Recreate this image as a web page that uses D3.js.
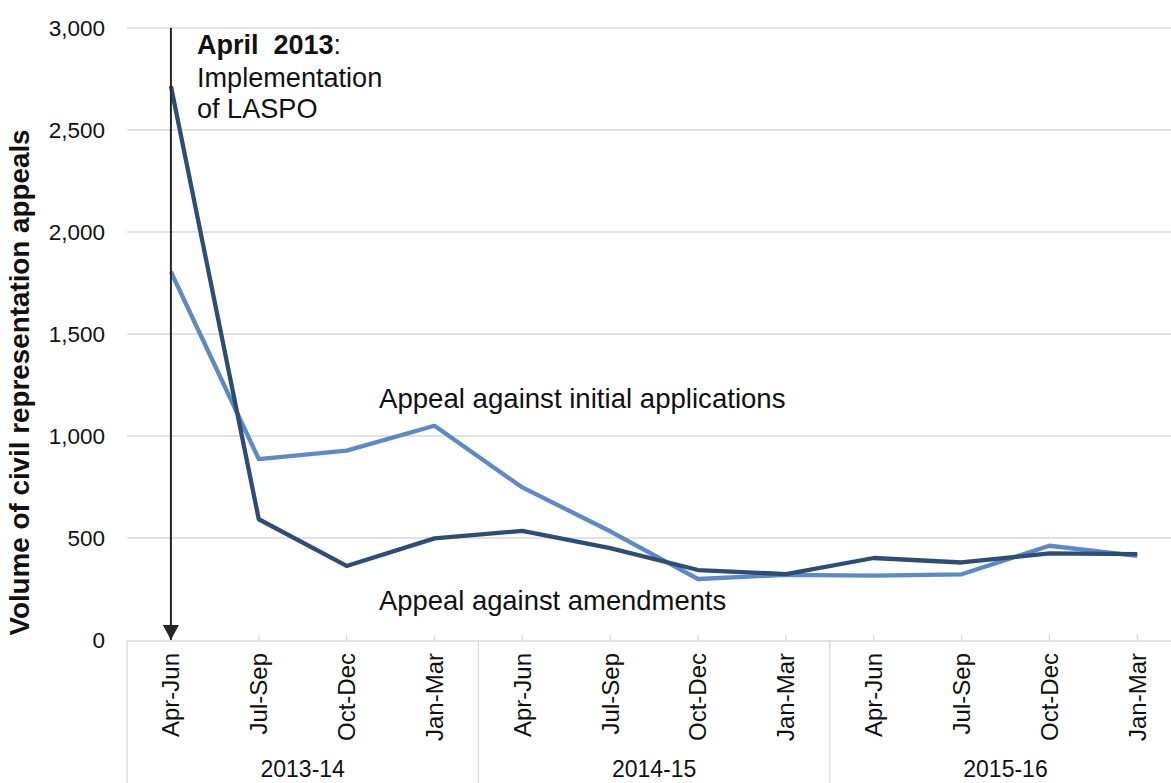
<!DOCTYPE html>
<html>
<head>
<meta charset="utf-8">
<script src="https://cdn.jsdelivr.net/npm/d3@7"></script>
<style>
  html, body { margin: 0; padding: 0; background: #fff; }
  svg { display: block; font-family: "Liberation Sans", Arial, sans-serif; }
</style>
</head>
<body>
<svg id="chart" width="1171" height="783"></svg>
<script>
// Quarterly volumes of civil representation appeals, 2013-14 to 2015-16
const quarters = ["Apr-Jun", "Jul-Sep", "Oct-Dec", "Jan-Mar"];
const years = ["2013-14", "2014-15", "2015-16"];
const initialApplications = [1805, 887, 928, 1050, 748, 533, 299, 319, 316, 322, 462, 412];
const amendments = [2715, 592, 363, 498, 535, 450, 343, 323, 402, 380, 425, 421];
const yTicks = [0, 500, 1000, 1500, 2000, 2500, 3000];

const periods = years.flatMap(yr => quarters.map(q => yr + " " + q));

(function draw() {
  const svg = d3.select("#chart");
  const plotLeft = 127, plotTop = 28, plotBottom = 640;
  const step = 87.85;
  const plotRight = plotLeft + step * periods.length;

  const x = d3.scalePoint().domain(periods).range([plotLeft + step / 2, plotRight - step / 2]);
  const y = d3.scaleLinear().domain([0, 3000]).range([plotBottom, plotTop]);

  // Gridlines
  svg.append("g")
    .selectAll("line")
    .data(yTicks.filter(d => d > 0))
    .join("line")
    .attr("x1", plotLeft).attr("x2", 1171)
    .attr("y1", d => y(d)).attr("y2", d => y(d))
    .attr("stroke", "#d9d9d9").attr("stroke-width", 1.3);

  // Y tick labels
  svg.append("g")
    .selectAll("text")
    .data(yTicks)
    .join("text")
    .attr("x", 105).attr("y", d => y(d))
    .attr("dy", "0.35em")
    .attr("text-anchor", "end")
    .attr("font-size", 22.5)
    .attr("fill", "#111")
    .text(d => d3.format(",")(d));

  // Y axis title
  svg.append("text")
    .attr("transform", `translate(29,${(130 + 635) / 2}) rotate(-90)`)
    .attr("text-anchor", "middle")
    .attr("font-size", 27.8)
    .attr("font-weight", "bold")
    .attr("fill", "#111")
    .text("Volume of civil representation appeals");

  // Category axis: baseline, inner ticks and year dividers
  const axisY = plotBottom + 1;
  svg.append("line")
    .attr("x1", plotLeft).attr("x2", 1171)
    .attr("y1", axisY).attr("y2", axisY)
    .attr("stroke", "#d9d9d9").attr("stroke-width", 1.5);

  svg.append("g")
    .selectAll("line")
    .data(periods)
    .join("line")
    .attr("x1", d => x(d)).attr("x2", d => x(d))
    .attr("y1", axisY - 6).attr("y2", axisY)
    .attr("stroke", "#d9d9d9").attr("stroke-width", 1.3);

  svg.append("g")
    .selectAll("line")
    .data(years)
    .join("line")
    .attr("x1", (d, i) => plotLeft + i * quarters.length * step)
    .attr("x2", (d, i) => plotLeft + i * quarters.length * step)
    .attr("y1", axisY).attr("y2", 783)
    .attr("stroke", "#d9d9d9").attr("stroke-width", 1.3);

  // Quarter labels (rotated)
  svg.append("g")
    .selectAll("text")
    .data(periods)
    .join("text")
    .attr("transform", d => `translate(${x(d)},653) rotate(-90)`)
    .attr("dy", "0.35em")
    .attr("text-anchor", "end")
    .attr("font-size", 24)
    .attr("fill", "#111")
    .text(d => d.split(" ")[1]);

  // Financial year labels
  svg.append("g")
    .selectAll("text")
    .data(years)
    .join("text")
    .attr("x", (d, i) => plotLeft + (i + 0.5) * quarters.length * step)
    .attr("y", 777)
    .attr("text-anchor", "middle")
    .attr("font-size", 23)
    .attr("fill", "#111")
    .text(d => d);

  // Series lines
  const line = d3.line().x((d, i) => x(periods[i])).y(d => y(d));

  svg.append("path")
    .datum(initialApplications)
    .attr("d", line)
    .attr("fill", "none")
    .attr("stroke", "#5b8ac6")
    .attr("stroke-width", 4.3)
    .attr("stroke-linejoin", "round");

  svg.append("path")
    .datum(amendments)
    .attr("d", line)
    .attr("fill", "none")
    .attr("stroke", "#2d4d78")
    .attr("stroke-width", 4.3)
    .attr("stroke-linejoin", "round");

  // LASPO implementation marker: arrow down to the first quarter
  const ax = x(periods[0]);
  svg.append("defs").append("marker")
    .attr("id", "arrowhead")
    .attr("viewBox", "0 0 16 15")
    .attr("refX", 8).attr("refY", 15)
    .attr("markerWidth", 16).attr("markerHeight", 15)
    .attr("markerUnits", "userSpaceOnUse")
    .attr("orient", "0")
    .append("path")
    .attr("d", "M0,0 L16,0 L8,15 Z")
    .attr("fill", "#262626");

  svg.append("line")
    .attr("x1", ax).attr("x2", ax)
    .attr("y1", y(3000)).attr("y2", axisY - 1)
    .attr("stroke", "#262626").attr("stroke-width", 2)
    .attr("marker-end", "url(#arrowhead)");

  const note = svg.append("text")
    .attr("x", 197).attr("y", 54)
    .attr("font-size", 27)
    .attr("fill", "#111");
  note.append("tspan").attr("font-weight", "bold").text("April\u00a0 2013");
  note.append("tspan").text(":");
  svg.append("text").attr("x", 197).attr("y", 87).attr("font-size", 27.1).attr("fill", "#111").text("Implementation");
  svg.append("text").attr("x", 197).attr("y", 118).attr("font-size", 27.1).attr("fill", "#111").text("of LASPO");

  // Series labels
  svg.append("text")
    .attr("x", 379).attr("y", 408)
    .attr("font-size", 27.6)
    .attr("fill", "#111")
    .text("Appeal against initial applications");

  svg.append("text")
    .attr("x", 379).attr("y", 610)
    .attr("font-size", 27.4)
    .attr("fill", "#111")
    .text("Appeal against amendments");
})();
</script>
</body>
</html>
